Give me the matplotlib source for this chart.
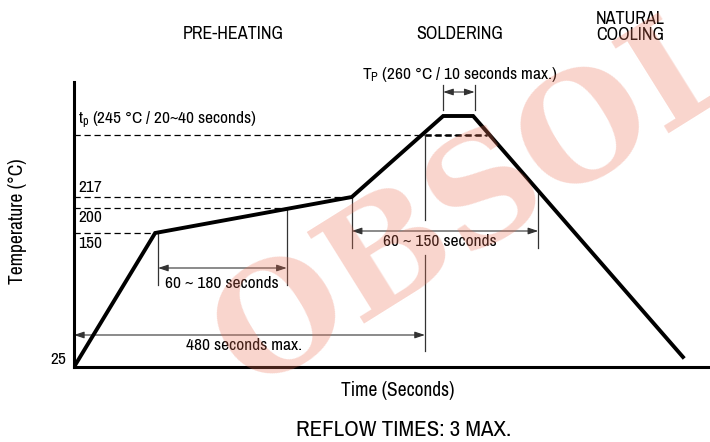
import matplotlib
matplotlib.use("Agg")
import matplotlib.pyplot as plt

plt.rcParams['font.family'] = ['Archivo Narrow', 'Roboto', 'DejaVu Sans']
plt.rcParams['mathtext.default'] = 'regular'

# schematic reflow profile (time in s, drawn height in schematic units)
profile_t = [0, 111, 380, 505, 546, 833]
profile_h = [0, 134, 170, 251, 251, 10]

# temperature marks: label text and where the label sits
temp_labels = ['25', '150', '200', '217']
label_h = [7, 124, 149, 180]
dash_end = [111, 291, 380, 565]   # dashed lines for 150, 200, 217, 245 stop here
dash_h = [134, 159, 170, 232]

phase_names = ['PRE-HEATING', 'SOLDERING', 'NATURAL\nCOOLING']

fig = plt.figure(figsize=(7.10, 4.42), dpi=100)
ax = fig.add_axes([74/710, 75/442, 636/710, 285/442])
ax.set_xlim(0, 870)
ax.set_ylim(0, 285)
ax.set_xticks([])
ax.set_yticks([])
for s in ['top', 'right']:
    ax.spines[s].set_visible(False)
for s in ['left', 'bottom']:
    ax.spines[s].set_linewidth(2.2)

# profile
ax.plot(profile_t, profile_h, color='black', lw=2.8, solid_joinstyle='miter', zorder=3)

# dashed level lines
for xe, h in zip(dash_end, dash_h):
    ax.plot([0, xe], [h, h], color='black', lw=0.9, ls=(0, (5, 3)), zorder=2)
ax.plot([480, 565], [232, 232], color='black', lw=1.8, ls=(0, (2.5, 1.5)), zorder=2)

# level labels
fs = 12.5
ax.text(-10, label_h[0], temp_labels[0], ha='right', va='center', fontsize=fs, clip_on=False)
for lab, h in zip(temp_labels[1:], label_h[1:]):
    ax.text(6, h, lab, ha='left', va='center', fontsize=fs)
ax.text(6, 247, '$t_p$ (245 °C / 20~40 seconds)', ha='left', va='center', fontsize=fs)

lc = '#333333'

def vline(x, y0, y1):
    ax.plot([x, x], [y0, y1], color=lc, lw=0.9, zorder=2)

def span(x0, x1, y):
    ax.annotate('', xy=(x1, y), xytext=(x0, y),
                arrowprops=dict(arrowstyle='<|-|>,head_length=0.6,head_width=0.2',
                                color=lc, lw=0.8, shrinkA=0, shrinkB=0), zorder=2)

# 60 ~ 180 seconds
vline(115, 134, 82)
vline(291, 159, 82)
span(115, 291, 99)
ax.text(202, 84, '60 ~ 180 seconds', ha='center', va='center', fontsize=fs)

# 60 ~ 150 seconds
vline(380, 170, 119)
vline(635, 174, 119)
span(380, 635, 136)
ax.text(500, 126, '60 ~ 150 seconds', ha='center', va='center', fontsize=fs)

# 480 seconds max.
vline(480, 232, 147)
vline(480, 112, 16)
span(0, 480, 32)
ax.text(233, 22, '480 seconds max.', ha='center', va='center', fontsize=fs)

# Tp
vline(505, 257, 282)
vline(548, 257, 282)
span(505, 548, 275)
ax.text(527, 293, '$T_P$ (260 °C / 10 seconds max.)', ha='center', va='center',
        fontsize=fs, clip_on=False)

# phase headers
fig.text(233/710, 1 - 34/442, phase_names[0], ha='center', va='center', fontsize=13)
fig.text(460/710, 1 - 34/442, phase_names[1], ha='center', va='center', fontsize=13)
fig.text(630/710, 1 - 27/442, phase_names[2], ha='center', va='center', fontsize=13,
         linespacing=1.05)

fig.text(18/710, 1 - 221/442, 'Temperature (°C)', rotation=90, ha='center', va='center',
         fontsize=14)
fig.text(398/710, 1 - 390/442, 'Time (Seconds)', ha='center', va='center', fontsize=14)
fig.text(404/710, 1 - 430/442, 'REFLOW TIMES: 3 MAX.', ha='center', va='center', fontsize=16.5)

# watermark
fig.text(620/710, 1 - 112/442, 'OBSOLETE', rotation=32, ha='center', va='center',
         fontsize=106, fontweight='bold', family=['DejaVu Serif'],
         color=(0.92, 0.45, 0.35), alpha=0.3, zorder=10)

fig.savefig('out.png', dpi=100)
